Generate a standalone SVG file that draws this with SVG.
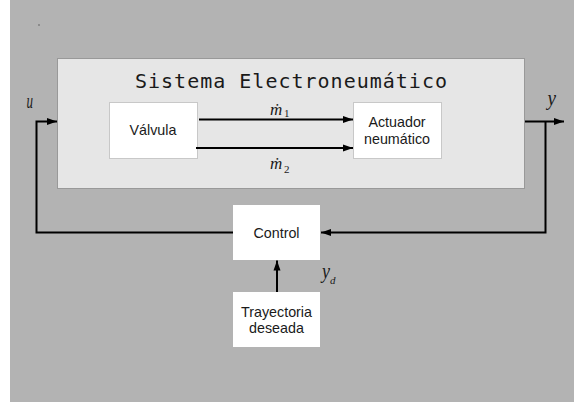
<svg xmlns="http://www.w3.org/2000/svg" width="574" height="404" viewBox="0 0 574 404">
<style>
.lbl{font-family:"Liberation Sans",Arial,sans-serif;font-size:14.3px;fill:#1a1a1a;text-anchor:middle}
.math{font-family:"Liberation Serif","Times New Roman",serif;font-style:italic;fill:#1a1a1a}
.sub{font-family:"Liberation Serif","Times New Roman",serif;font-style:normal;font-size:11px;fill:#1a1a1a}
.box{fill:#ffffff;stroke:#c8c8c8;stroke-width:1}
.wire{fill:none;stroke:#000;stroke-width:2}
</style>
<defs>
<marker id="ah" viewBox="0 0 10 10" refX="10" refY="5" markerWidth="5" markerHeight="5" orient="auto" markerUnits="strokeWidth">
<path d="M0,1.5 L10,5 L0,8.5 Z" fill="#000"/>
</marker>
</defs>
<rect x="10" y="0" width="564" height="402" fill="#b3b3b3"/>
<circle cx="39" cy="25" r="0.9" fill="#7a7a7a"/>
<g id="sistema">
<rect x="57.5" y="58.5" width="467" height="130" fill="#e6e6e6" stroke="#999" stroke-width="1"/>
<text x="291.5" y="88" font-family="'DejaVu Sans Mono',monospace" font-size="20" letter-spacing="1" text-anchor="middle" fill="#1a1a1a">Sistema Electroneumático</text>
</g>
<g id="valvula">
<rect class="box" x="109.5" y="102.5" width="88" height="56"/>
<text class="lbl" x="153" y="135">Válvula</text>
</g>
<g id="actuador">
<rect class="box" x="353.5" y="102.5" width="88" height="56"/>
<text class="lbl" x="397" y="127">Actuador</text>
<text class="lbl" x="397" y="143.5">neumático</text>
</g>
<g id="control">
<rect x="233" y="205" width="87" height="55" fill="#fff"/>
<text class="lbl" x="276.5" y="237.5">Control</text>
</g>
<g id="trayectoria">
<rect x="233" y="292" width="87" height="55" fill="#fff"/>
<text class="lbl" x="276.5" y="317">Trayectoria</text>
<text class="lbl" x="276.5" y="333">deseada</text>
</g>
<g id="connectors">
<path class="wire" d="M199,119.5 H353" marker-end="url(#ah)"/>
<path class="wire" d="M196,148 H353" marker-end="url(#ah)"/>
<path class="wire" d="M233,232.5 H36.5 V121.5 H57" marker-end="url(#ah)"/>
<path class="wire" d="M525,121.5 H564" marker-end="url(#ah)"/>
<path class="wire" d="M545.5,121.5 V232.5 H321" marker-end="url(#ah)"/>
<path class="wire" d="M277,292 V260.5" marker-end="url(#ah)"/>
</g>
<g id="labels">
<text class="math" x="26.5" y="108" font-size="22" textLength="6.5" lengthAdjust="spacingAndGlyphs">u</text>
<text class="math" x="547.5" y="105" font-size="20" textLength="8.5" lengthAdjust="spacingAndGlyphs">y</text>
<text class="math" x="322" y="278" font-size="20" textLength="8" lengthAdjust="spacingAndGlyphs">y</text>
<text class="sub" x="330" y="284" style="font-style:italic">d</text>
<text class="math" x="270" y="114.5" font-size="17">ṁ</text>
<text class="sub" x="284" y="117">1</text>
<text class="math" x="270" y="169" font-size="17">ṁ</text>
<text class="sub" x="284" y="173">2</text>
</g>
</svg>
